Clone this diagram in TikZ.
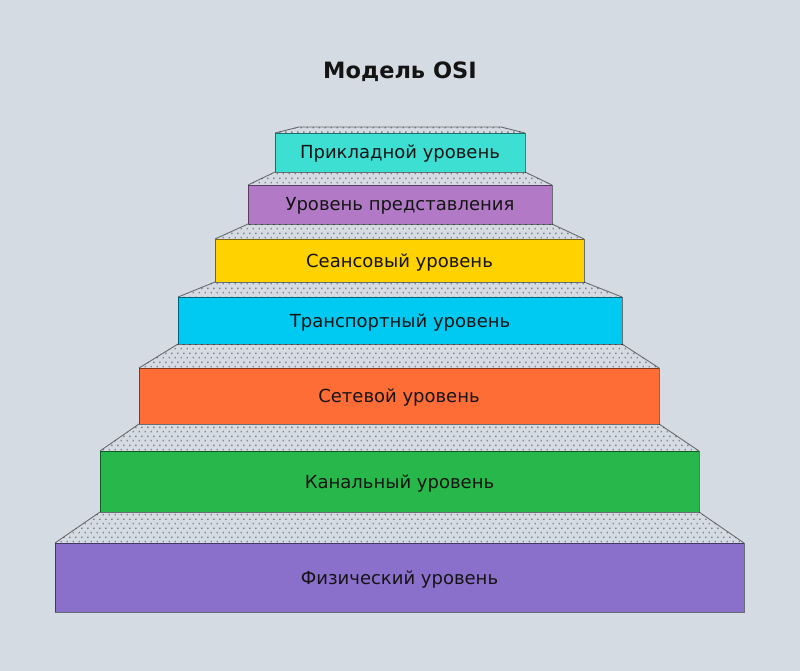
\documentclass[tikz,border=0pt]{standalone}
\usepackage{fontspec}
\setmainfont{DejaVu Sans}
\usetikzlibrary{patterns}
\pgfdeclarelayer{background}
\pgfsetlayers{background,main}
\pgfdeclarepatternformonly{stagdots}{\pgfqpoint{0pt}{0pt}}{\pgfqpoint{6pt}{9.2pt}}{\pgfqpoint{6pt}{9.2pt}}{%
  \pgfpathrectangle{\pgfqpoint{0.75pt}{0.75pt}}{\pgfqpoint{1.5pt}{1.5pt}}%
  \pgfpathrectangle{\pgfqpoint{3.75pt}{5.35pt}}{\pgfqpoint{1.5pt}{1.5pt}}%
  \pgfusepath{fill}}
\definecolor{bg}{HTML}{D5DBE3}
\definecolor{dotc}{HTML}{80858E}
\definecolor{txt}{HTML}{141414}
\definecolor{c1}{HTML}{3EDFD3}
\definecolor{c2}{HTML}{B27AC6}
\definecolor{c3}{HTML}{FFD200}
\definecolor{c4}{HTML}{00C9F2}
\definecolor{c5}{HTML}{FF6D36}
\definecolor{c6}{HTML}{28B74A}
\definecolor{c7}{HTML}{8A6FCB}
\tikzset{
  stepbox/.style={draw=black, draw opacity=0.5, line width=0.9pt, outer sep=0pt, inner sep=0pt,
    text height=13pt, text depth=0pt, font=\fontsize{18}{20}\selectfont, text=txt},
  topface/.style={fill=bg, postaction={pattern=stagdots, pattern color=dotc}},
  faceedge/.style={draw=black, draw opacity=0.5, line width=0.9pt, line join=round},
  titletext/.style={font=\fontsize{22.5}{26}\selectfont\bfseries, text=txt, inner sep=0pt,
    text height=16.4pt, text depth=0pt}
}
\begin{document}
\begin{tikzpicture}[x=1pt,y=-1pt]
\useasboundingbox (0,0) rectangle (800,671);
\node[titletext] (title) at (400,70.5) {Модель OSI};
\node[stepbox, fill=c1, minimum width=250pt, minimum height=39pt] (s1) at (400,152.5) {Прикладной уровень};
\node[stepbox, fill=c2, minimum width=304pt, minimum height=39pt] (s2) at (400,204.5) {Уровень представления};
\node[stepbox, fill=c3, minimum width=369pt, minimum height=43pt] (s3) at (399.5,260.5) {Сеансовый уровень};
\node[stepbox, fill=c4, minimum width=444pt, minimum height=47pt] (s4) at (400,320.5) {Транспортный уровень};
\node[stepbox, fill=c5, minimum width=520pt, minimum height=56pt] (s5) at (399,396) {Сетевой уровень};
\node[stepbox, fill=c6, minimum width=599pt, minimum height=61pt] (s6) at (399.5,481.5) {Канальный уровень};
\node[stepbox, fill=c7, minimum width=689pt, minimum height=69pt] (s7) at (399.5,577.5) {Физический уровень};
\coordinate (tl) at (299,127);
\coordinate (tr) at (501,127);
\begin{pgfonlayer}{background}
\fill[bg] (0,0) rectangle (800,671);
\fill[topface] (tl) -- (tr) -- (s1.north east) -- (s1.north west) -- cycle;
\draw[faceedge] (s1.north west) -- (tl) -- (tr) -- (s1.north east);
\foreach \a/\b in {s1/s2,s2/s3,s3/s4,s4/s5,s5/s6,s6/s7}{
  \fill[topface] (\a.south west) -- (\a.south east) -- (\b.north east) -- (\b.north west) -- cycle;
  \draw[faceedge] (\a.south west) -- (\b.north west);
  \draw[faceedge] (\a.south east) -- (\b.north east);
}
\end{pgfonlayer}
\end{tikzpicture}
\end{document}
